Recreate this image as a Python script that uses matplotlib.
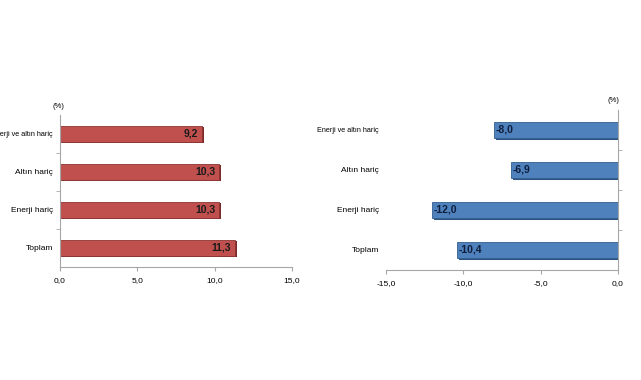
import matplotlib.pyplot as plt
import numpy as np

# categories bottom -> top
kategoriler = ["Toplam", "Enerji hariç", "Altın hariç", "Enerji ve altın hariç"]
sol_degerler = [11.3, 10.3, 10.3, 9.2]
sag_degerler = [-10.4, -12.0, -6.9, -8.0]
sol_ticks = [0, 5, 10, 15]
sag_ticks = [-15, -10, -5, 0]

W, H = 641, 380
fig = plt.figure(figsize=(W / 100, H / 100), dpi=100)
fig.patch.set_facecolor("white")
plt.rcParams["font.family"] = ["Liberation Sans", "DejaVu Sans"]


def eksen(x0, x1, ytop, ybot):
    return fig.add_axes([x0 / W, (H - ybot) / H, (x1 - x0) / W, (ybot - ytop) / H])


def fmt(v):
    return f"{v:.1f}".replace(".", ",")


def etiketler(ax):
    ax.set_yticks(y)
    ax.set_yticklabels(kategoriler, fontsize=6)
    # the long label is drawn tighter in the original
    ax.get_yticklabels()[-1].set_fontsize(5.2)


y = np.arange(len(kategoriler))
gri = "#A6A6A6"

# -----------------------------------
#   SOL GRAFIK
# -----------------------------------
ax1 = eksen(60, 292, 115, 267)
ax1.barh(y - 0.03, sol_degerler, height=0.42, color="#7A2A28", left=0.12, zorder=1)
ax1.barh(y, sol_degerler, height=0.42, color="#C0504D", edgecolor="#8C3533",
         linewidth=0.6, zorder=2)
for yi, v in zip(y, sol_degerler):
    ax1.text(v - 0.25, yi, fmt(v), ha="right", va="center", fontsize=7.5,
             fontweight="bold", color="#1A1A1A", zorder=3)
ax1.set_xlim(0, 15)
ax1.set_ylim(-0.5, 3.5)
ax1.set_xticks(sol_ticks)
ax1.set_xticklabels([fmt(t) for t in sol_ticks], fontsize=6)
etiketler(ax1)
ax1.set_yticks([0.5, 1.5, 2.5], minor=True)
ax1.tick_params(axis="y", which="major", length=0, pad=5)
ax1.tick_params(axis="y", which="minor", length=3, color=gri)
ax1.tick_params(axis="x", length=3, color=gri, pad=4)
for s in ["top", "right"]:
    ax1.spines[s].set_visible(False)
for s in ["left", "bottom"]:
    ax1.spines[s].set_color(gri)
    ax1.spines[s].set_linewidth(0.8)
fig.text(58 / W, (H - 107) / H, "(%)", fontsize=5.5, ha="center", va="center")

# -----------------------------------
#   SAG GRAFIK
# -----------------------------------
ax2 = eksen(386, 618, 110, 270)
ax2.barh(y - 0.03, sag_degerler, height=0.42, color="#2E557F", left=0.12, zorder=1)
ax2.barh(y, sag_degerler, height=0.42, color="#4F81BD", edgecolor="#335E8E",
         linewidth=0.6, zorder=2)
for yi, v in zip(y, sag_degerler):
    ax2.text(v + 0.1, yi, fmt(v), ha="left", va="center", fontsize=7.5,
             fontweight="bold", color="#0F1E3C", zorder=3)
ax2.set_xlim(-15, 0)
ax2.set_ylim(-0.5, 3.5)
ax2.set_xticks(sag_ticks)
ax2.set_xticklabels([fmt(t) for t in sag_ticks], fontsize=6)
etiketler(ax2)
ax2.set_yticks([0.5, 1.5, 2.5], minor=True)
ax2.tick_params(axis="y", which="major", length=0, pad=5)
ax2.tick_params(axis="y", which="minor", length=3, color=gri, left=False, right=True)
ax2.tick_params(axis="x", length=3, color=gri, pad=4)
for s in ["top", "left"]:
    ax2.spines[s].set_visible(False)
for s in ["right", "bottom"]:
    ax2.spines[s].set_color(gri)
    ax2.spines[s].set_linewidth(0.8)
fig.text(613 / W, (H - 100) / H, "(%)", fontsize=5.5, ha="center", va="center")

fig.savefig("out.png", dpi=100, facecolor="white")
